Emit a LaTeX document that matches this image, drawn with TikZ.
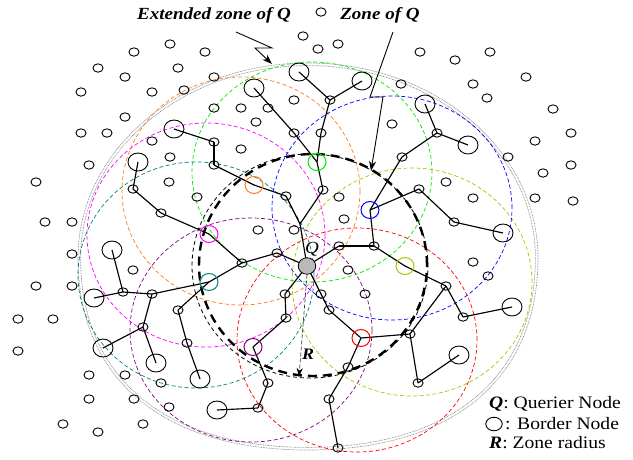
\documentclass[tikz,border=0pt]{standalone}
\usepackage{fontspec}
\setmainfont{Liberation Serif}[FakeStretch=1.12]
\usetikzlibrary{shapes.geometric,arrows.meta,backgrounds}

\definecolor{zgreen}{RGB}{0,235,0}
\definecolor{zorange}{RGB}{255,125,30}
\definecolor{zmagenta}{RGB}{255,0,255}
\definecolor{zteal}{RGB}{0,128,128}
\definecolor{zpurple}{RGB}{128,0,128}
\definecolor{zred}{RGB}{255,0,0}
\definecolor{zlime}{RGB}{165,200,0}
\definecolor{zblue}{RGB}{0,0,255}
\definecolor{extgray}{RGB}{140,140,140}

\tikzset{
  sn/.style={ellipse, draw, line width=0.9pt, minimum width=10pt, minimum height=8.4pt, inner sep=0pt},
  bn/.style={ellipse, draw, line width=0.9pt, minimum width=20pt, minimum height=18pt, inner sep=0pt},
  cn/.style={ellipse, draw=#1, line width=1pt, minimum width=18pt, minimum height=17pt, inner sep=0pt},
  qn/.style={ellipse, draw, fill=black!27, line width=0.8pt, minimum width=17.5pt, minimum height=16.5pt, inner sep=0pt},
  link/.style={line width=1.15pt},
  zone/.style={draw=#1, line width=0.7pt, dash pattern=on 4pt off 2.5pt},
  zonethick/.style={line width=2.4pt, dash pattern=on 9pt off 6pt},
  zonethin/.style={line width=0.8pt, dash pattern=on 4pt off 3pt},
  extz/.style={draw=extgray, line width=0.7pt, dash pattern=on 0.8pt off 0.8pt},
  pointer/.style={line width=0.9pt, -{Stealth[length=10pt,width=7pt]}},
  radiusarrow/.style={draw=black!75, line width=0.7pt, dash pattern=on 4pt off 2pt, -{Stealth[length=9pt,width=6pt,black]}},
  lbl/.style={font=\fontsize{17}{19}\selectfont\bfseries\itshape},
  legend/.style={font=\fontsize{17.5}{20}\selectfont, anchor=base west, inner sep=0pt}
}

\begin{document}
\begin{tikzpicture}[x=1pt,y=-1pt]
\useasboundingbox (0,0) rectangle (633,459);

% querier node
\node[qn] (q) at (307,266) {};
\node[font=\fontsize{17}{19}\selectfont\itshape] (qlabel) at (312,249) {Q};

% border nodes of the zone (coloured)
\foreach \n/\c/\x/\y in {cg/zgreen/317/162, co/zorange/254/185, cm/zmagenta/209/234,
  ct/zteal/209/282, cp/zpurple/253/347, cr/zred/361/338, cy/zlime/405/266, cb/zblue/370/210}
  \node[cn=\c] (\n) at (\x,\y) {};

% border nodes of the extended zone
\foreach \n/\x/\y in {b1/174/129, b2/138/162, b3/112/250, b4/94/298, b5/103/348, b6/156/363,
  b7/200/379, b8/217/410, b9/299/72, b10/362/81, b11/254/88, b12/425/104, b13/468/145,
  b14/503/233, b15/512/307, b16/459/355}
  \node[bn] (\n) at (\x,\y) {};

% relay nodes on the routes
\foreach \n/\x/\y in {t1/214/142, t2/214/165, t3/286/196, t4/323/190, t5/330/100, t6/321/133,
  t7/294/133, t8/437/133, t9/402/157, t10/419/189, t11/454/222, t12/374/246, t13/339/246,
  t14/446/286, t15/463/317, t16/410/334, t17/418/383, t18/348/367, t19/329/399, t20/338/448,
  t21/321/294, t22/329/310, t23/285/294, t24/286/318, t25/268/383, t26/258/408, t27/277/253,
  t28/242/263, t29/161/213, t30/133/189, t31/152/294, t32/123/292, t33/143/327, t34/178/310,
  t35/187/343}
  \node[sn] (\n) at (\x,\y) {};

% other nodes of the network
\foreach \x/\y [count=\i] in {170/44, 134/52, 205/52, 98/68, 178/68, 125/77, 214/77, 81/92,
  152/92, 184/90, 125/117, 214/108, 81/133, 107/133, 152/141, 170/157,
  321/12, 303/36, 338/44, 318/49, 420/52, 401/84, 241/108, 268/108, 294/100, 256/122,
  392/124, 241/149,
  455/60, 490/52, 526/77, 473/84, 487/98, 553/109, 571/133, 535/141, 508/157,
  89/165, 36/182, 169/182, 197/197, 45/222, 72/222, 72/254, 133/270, 36/286, 72/286,
  339/197, 344/219, 258/230, 294/230, 348/270, 365/294,
  571/165, 543/173, 446/182, 473/198, 535/198, 573/201, 473/262, 488/276,
  18/319, 53/319, 18/351, 89/375, 125/375, 161/383, 89/399, 134/399, 169/407,
  63/424, 98/432, 143/424}
  \node[sn] (f\i) at (\x,\y) {};

\coordinate (j1) at (300,224);

\begin{pgfonlayer}{background}
  % extended zone of Q (double dotted outline)
  \foreach \d in {0,2.6}{
    \pgfmathsetmacro\rx{230-\d}
    \pgfmathsetmacro\ry{195-\d}
    \pgfmathsetmacro\rb{192-\d}
    \draw[extz] ({308-\rx},258)
      .. controls ({308-\rx},{258-0.5523*\ry}) and ({308-0.5523*\rx},{258-\ry}) .. (308,{258-\ry})
      .. controls ({308+0.5523*\rx},{258-\ry}) and ({308+\rx},{258-0.5523*\ry}) .. ({308+\rx},258)
      .. controls ({308+\rx},{258+0.63*\rb}) and ({308+0.63*\rx},{258+\rb}) .. (308,{258+\rb})
      .. controls ({308-0.63*\rx},{258+\rb}) and ({308-\rx},{258+0.63*\rb}) .. ({308-\rx},258)
      -- cycle;
  }
  % zones of the border nodes
  \draw[zone=zgreen]   (312,172) ellipse [x radius=120pt, y radius=110pt];
  \draw[zone=zorange]  (241,191) ellipse [x radius=119pt, y radius=114pt];
  \draw[zone=zmagenta] (206,235) ellipse [x radius=119pt, y radius=112pt];
  \draw[zone=zteal]    (196,275) ellipse [x radius=118pt, y radius=113pt];
  \draw[zone=zpurple]  (251,330) ellipse [x radius=121pt, y radius=112pt];
  \draw[zone=zred]     (357,340) ellipse [x radius=120pt, y radius=112pt];
  \draw[zone=zlime]    (412,282) ellipse [x radius=120pt, y radius=114pt];
  \draw[zone=zblue]    (392,208) ellipse [x radius=120pt, y radius=112pt];
  % zone of Q
  \draw[zonethin]  (310,266) ellipse [x radius=118pt, y radius=112pt];
  \draw[zonethick] (313,265) ellipse [x radius=114pt, y radius=111pt];
  % routes
  \foreach \a/\b in {b1/t1, t1/t2, t2/co, co/t3, t3/j1, j1/q, cg/t4, t4/j1, b9/t5, b10/t5,
    t5/t6, t6/cg, b11/t7, t7/cg, b12/t8, t8/b13, t8/t9, t9/cb, cb/t10, t10/t11, t11/b14,
    cb/t12, t12/t13, t13/q, t12/cy, cy/t14, t14/t15, t15/b15, t16/t14, cr/t16, t16/t17,
    t17/b16, cr/t18, t18/t19, t19/t20, q/t21, t21/t22, t22/cr, q/t23, t23/t24, t24/cp,
    cp/t25, t25/t26, t26/b8, q/t27, t27/t28, t28/cm, cm/t29, t29/t30, t30/b2, t28/ct,
    ct/t31, t31/t32, t32/b3, t32/b4, t31/t33, t33/b5, t33/b6, ct/t34, t34/t35, t35/b7}
    \draw[link] (\a.center) -- (\b.center);
\end{pgfonlayer}

% zone radius
\coordinate (rtip) at (299,377);
\draw[radiusarrow] (q.south) -- (rtip);
\node[font=\fontsize{16}{18}\selectfont\bfseries\itshape] (rlabel) at (308,354) {R};

% captions with their pointers
\node[lbl] (lext) at (214,15) {Extended zone of Q};
\node[lbl] (lzone) at (380,15) {Zone of Q};
\coordinate (e0) at (236,32);
\coordinate (e1) at (272,48);
\coordinate (e2) at (255,48);
\coordinate (e3) at (272,64);
\draw[pointer] (e0) -- (e1) -- (e2) -- (e3);
\coordinate (z0) at (393,32);
\coordinate (z1) at (370,97);
\coordinate (z2) at (383,97);
\coordinate (z3) at (371,171);
\draw[pointer] (z0) -- (z1) -- (z2) -- (z3);

% legend
\node[legend] (lg1) at (489,408) {\textbf{\textit{Q}}: Querier Node};
\node[ellipse, draw, line width=0.9pt, minimum width=16.5pt, minimum height=13.5pt, inner sep=0pt] (lgc) at (494,424) {};
\node[legend] (lg2) at (505,429) {: Border Node};
\node[legend] (lg3) at (489,448) {\textbf{\textit{R}}: Zone radius};
\end{tikzpicture}
\end{document}
